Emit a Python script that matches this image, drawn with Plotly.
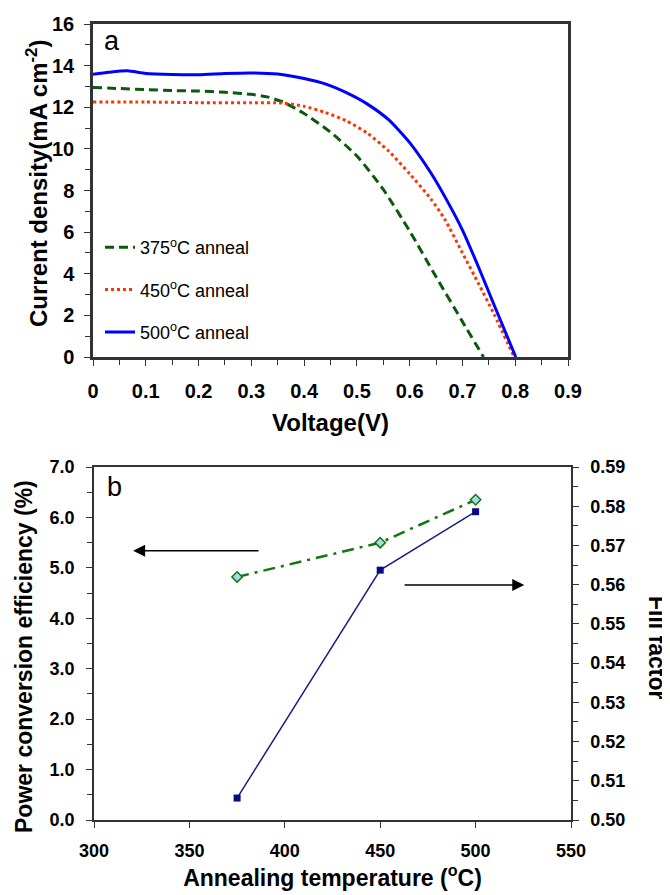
import plotly.graph_objects as go

# ---------------- Panel (a): J-V curves ----------------
v375 = [0, 0.05, 0.1, 0.15, 0.2, 0.25, 0.3, 0.33, 0.36, 0.4, 0.45, 0.5, 0.55, 0.6, 0.65, 0.7, 0.74]
j375 = [12.95, 12.9, 12.85, 12.8, 12.78, 12.72, 12.62, 12.5, 12.25, 11.7, 10.8, 9.66, 8.05, 6.05, 3.85, 1.7, 0]

v450 = [0, 0.1, 0.2, 0.3, 0.36, 0.4, 0.44, 0.48, 0.52, 0.56, 0.6, 0.64, 0.667, 0.7, 0.73, 0.76, 0.798]
j450 = [12.25, 12.25, 12.22, 12.22, 12.2, 12.05, 11.75, 11.35, 10.75, 9.9, 8.8, 7.6, 6.6, 5.0, 3.55, 2.05, 0]

v500 = [0, 0.03, 0.065, 0.1, 0.15, 0.2, 0.25, 0.3, 0.35, 0.4, 0.44, 0.48, 0.52, 0.56, 0.6,
        0.64, 0.67, 0.7, 0.73, 0.76, 0.801]
j500 = [13.58, 13.68, 13.75, 13.62, 13.57, 13.56, 13.62, 13.65, 13.6, 13.38, 13.12, 12.7, 12.15, 11.4,
        10.3, 8.85, 7.55, 6.1, 4.35, 2.5, 0]

jv_names = ["375<sup>o</sup>C anneal", "450<sup>o</sup>C anneal", "500<sup>o</sup>C anneal"]

# ---------------- Panel (b): PCE and FF ----------------
temps = [375, 450, 500]
pce = [4.82, 5.5, 6.35]
ff = [0.5056, 0.5637, 0.5786]

FONT = "Liberation Sans, Arial, sans-serif"

# page body has an 8px margin: figure is placed at (8, 8) in the window
W, H, OFF = 662, 887, 8


def px(x):
    return (x - OFF) / W


def py(y):
    return 1 - (y - OFF) / H


fig = go.Figure()

fig.add_trace(go.Scatter(x=v375, y=j375, mode="lines", name=jv_names[0], legendgroup="g1",
                         line=dict(color="#0b5a0b", width=3, dash="9px,5px", shape="spline", smoothing=0.6),
                         xaxis="x", yaxis="y"))
fig.add_trace(go.Scatter(x=v450, y=j450, mode="lines", name=jv_names[1], legendgroup="g2",
                         line=dict(color="#ff3300", width=3, dash="3px,3px", shape="spline", smoothing=0.6),
                         xaxis="x", yaxis="y"))
fig.add_trace(go.Scatter(x=v500, y=j500, mode="lines", name=jv_names[2], legendgroup="g3",
                         line=dict(color="#0000ff", width=3, shape="spline", smoothing=0.6),
                         xaxis="x", yaxis="y"))

fig.add_trace(go.Scatter(x=temps, y=pce, mode="lines+markers", showlegend=False,
                         line=dict(color="#117711", width=2.5, dash="12px,6px,3px,6px"),
                         marker=dict(symbol="diamond", size=8, color="#a8dbe6",
                                     line=dict(color="#117711", width=1.5)),
                         xaxis="x2", yaxis="y2"))
fig.add_trace(go.Scatter(x=temps, y=ff, mode="lines+markers", showlegend=False,
                         line=dict(color="#1c1c8c", width=1.5),
                         marker=dict(symbol="square", size=7, color="#0a0a80"),
                         xaxis="x2", yaxis="y3"))

tickfont = dict(family=FONT, size=20, color="black", weight="bold")
tickfont2 = dict(family=FONT, size=18, color="black", weight="bold")
titlefont = dict(family=FONT, size=24, color="black", weight="bold")
titlefont2 = dict(family=FONT, size=23, color="black", weight="bold")

axline = dict(showline=True, linecolor="#333333", ticks="outside", ticklen=6,
              tickcolor="#333333", showgrid=False, zeroline=False, automargin=False)

fig.update_layout(
    width=W, height=H,
    margin=dict(l=0, r=0, t=0, b=0),
    paper_bgcolor="white", plot_bgcolor="white",
    font=dict(family=FONT, color="black"),
    xaxis=dict(domain=[px(93), px(568)], range=[0, 0.9],
               tickvals=[0, 0.1, 0.2, 0.3, 0.4, 0.5, 0.6, 0.7, 0.8, 0.9],
               ticktext=["0", "0.1", "0.2", "0.3", "0.4", "0.5", "0.6", "0.7", "0.8", "0.9"],
               linewidth=2.5, mirror=True, tickfont=tickfont, ticklabelstandoff=8,
               minor=dict(dtick=0.05, ticks="outside", ticklen=5, tickcolor="#333333"),
               title=dict(text="Voltage(V)", font=titlefont, standoff=14),
               anchor="y", **axline),
    yaxis=dict(domain=[py(357), py(24)], range=[0, 16], dtick=2,
               linewidth=2.5, mirror=True, tickfont=tickfont, ticklabelstandoff=6,
               minor=dict(dtick=1, ticks="outside", ticklen=5, tickcolor="#333333"),
               anchor="x", **axline),
    xaxis2=dict(domain=[px(94), px(571)], range=[300, 550], dtick=50,
                linewidth=1.5, mirror=True, tickfont=tickfont2, ticklabelstandoff=8,
                title=dict(text="Annealing temperature (<sup>o</sup>C)", font=titlefont2, standoff=5),
                anchor="y2", **axline),
    yaxis2=dict(domain=[py(820), py(467)], range=[0, 7], dtick=1, tickformat=".1f",
                linewidth=1.5, tickfont=tickfont2, ticklabelstandoff=8,
                minor=dict(dtick=0.5, ticks="outside", ticklen=5, tickcolor="#333333"),
                anchor="x2", **axline),
    yaxis3=dict(range=[0.50, 0.59], dtick=0.01, tickformat=".2f", overlaying="y2", side="right",
                linewidth=1.5, tickfont=tickfont2, ticklabelstandoff=8,
                minor=dict(dtick=0.005, ticks="outside", ticklen=5, tickcolor="#333333"),
                anchor="x2", **axline),
    legend=dict(x=px(100), y=py(229), xanchor="left", yanchor="top",
                bgcolor="rgba(0,0,0,0)", tracegroupgap=16,
                font=dict(family=FONT, size=18, color="black")),
    showlegend=True,
)

fig.update_layout(annotations=[
    dict(text="a", xref="paper", yref="paper", x=px(112), y=py(41), xanchor="center", yanchor="middle",
         showarrow=False, font=dict(family=FONT, size=27, color="black")),
    dict(text="b", xref="paper", yref="paper", x=px(114), y=py(487), xanchor="center", yanchor="middle",
         showarrow=False, font=dict(family=FONT, size=27, color="black")),
    dict(text="Current density(mA cm<sup>-2</sup>)", xref="paper", yref="paper", x=px(37), y=py(184),
         xanchor="center", yanchor="middle", textangle=-90, showarrow=False, font=titlefont),
    dict(text="Power conversion efficiency (%)", xref="paper", yref="paper", x=px(24), y=py(657),
         xanchor="center", yanchor="middle", textangle=-90, showarrow=False, font=titlefont2),
    dict(text="Fill factor", xref="paper", yref="paper", x=px(657), y=py(648),
         xanchor="center", yanchor="middle",
         textangle=90, showarrow=False, font=titlefont2),
    # left arrow (points to PCE axis)
    dict(x=320.5, y=5.34, ax=387, ay=5.34, xref="x2", yref="y2", axref="x2", ayref="y2",
         text="", showarrow=True, arrowhead=2, arrowsize=1.6, arrowwidth=1.5, arrowcolor="black"),
    # right arrow (points to FF axis)
    dict(x=525.5, y=4.66, ax=462, ay=4.66, xref="x2", yref="y2", axref="x2", ayref="y2",
         text="", showarrow=True, arrowhead=2, arrowsize=1.6, arrowwidth=1.5, arrowcolor="black"),
])

fig.write_html("out.html")
